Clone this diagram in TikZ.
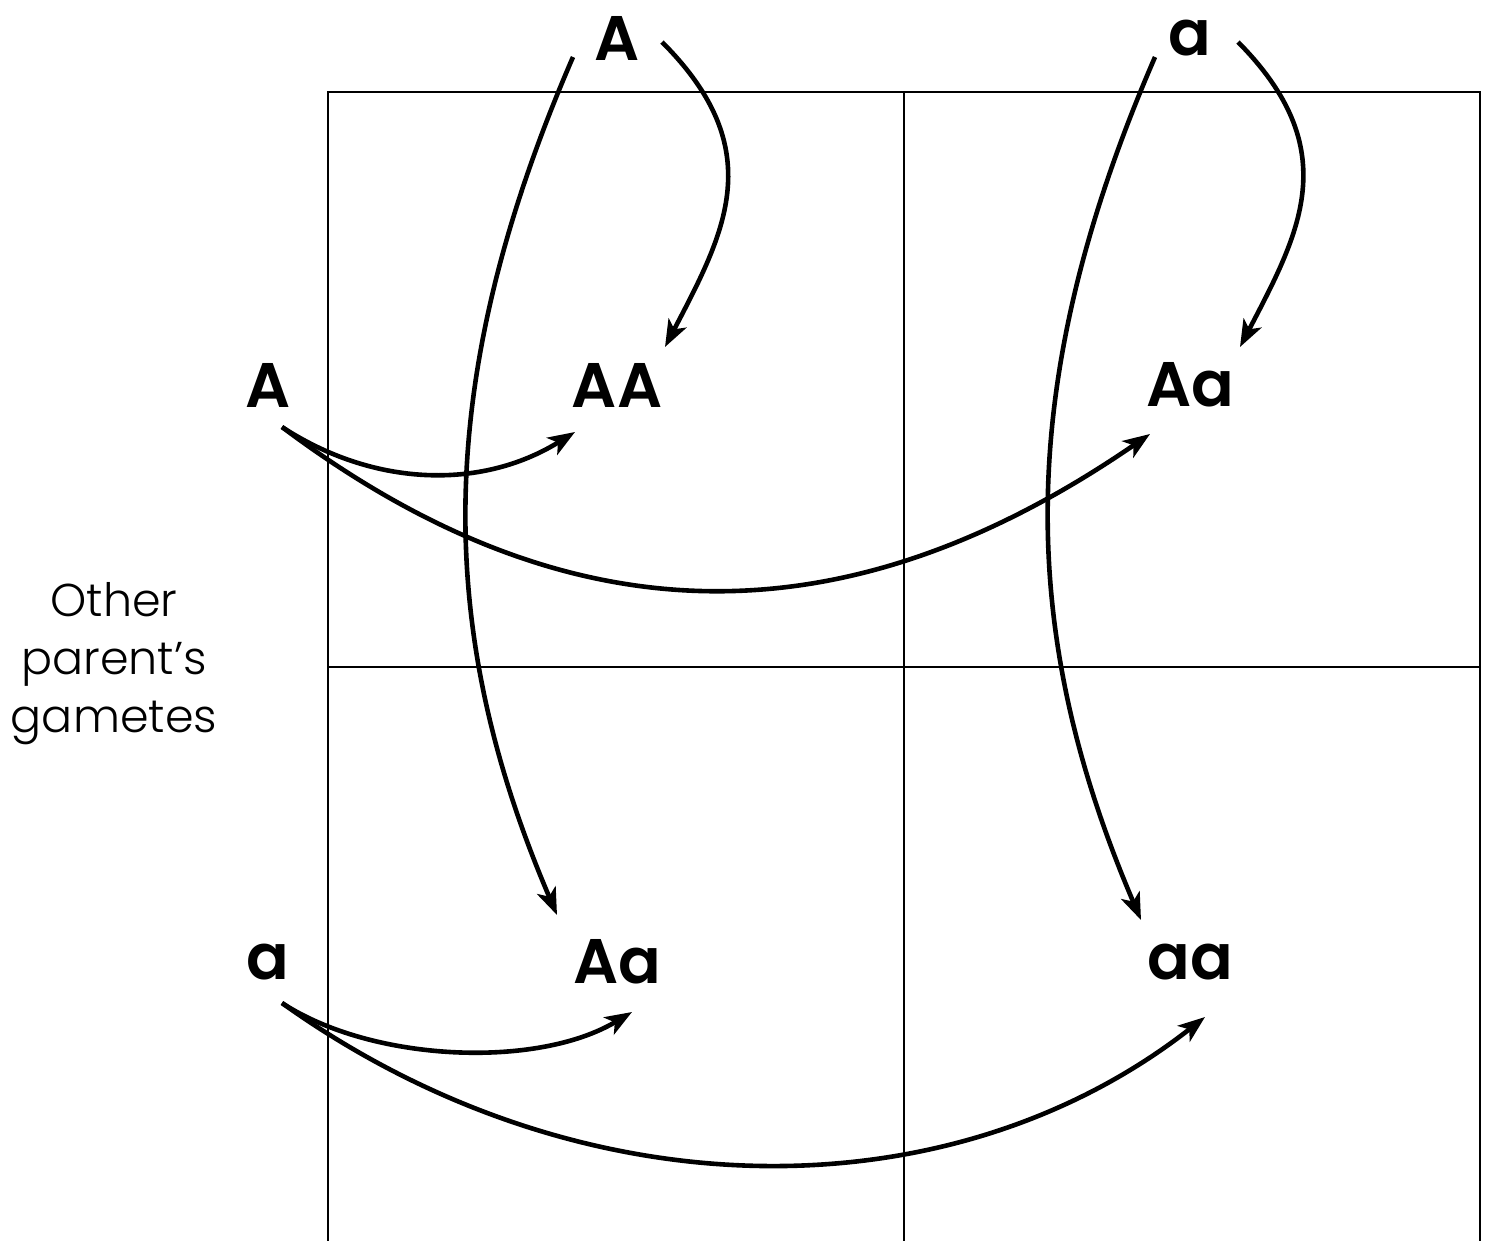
\documentclass[tikz,border=0pt]{standalone}
\usepackage{fontspec}
\setmainfont{Poppins}
\newfontfamily\genefont{Poppins SemiBold}
\newfontfamily\sidefont{Poppins Light}
\usetikzlibrary{arrows.meta}
\begin{document}
\begin{tikzpicture}[x=1pt,y=-1pt,
  gene/.style={font=\fontsize{63}{70}\genefont, inner sep=0pt, anchor=center},
  grid/.style={line width=2.4pt, line cap=rect},
  cross/.style={line width=4.6pt, -{Stealth[length=27pt,width=20pt,inset=7pt]}},
  side/.style={font=\fontsize{46}{58}\sidefont, align=center, inner sep=0pt}]
\useasboundingbox (0,0) rectangle (1489,1240);
% grid
\draw[grid] (328,92) -- (1480,92);
\draw[grid] (328,667) -- (1480,667);
\draw[grid] (328,92) -- (328,1240);
\draw[grid] (904,92) -- (904,1240);
\draw[grid] (1480,92) -- (1480,1240);
% labels
\node[gene] (tA) at (617,38) {A};
\node[gene] (ta) at (1190,38) {a};
\node[gene] (lA) at (268,385) {A};
\node[gene] (la) at (268,962) {a};
\node[gene] (AA) at (617,385) {AA};
\node[gene] (Aa1) at (1190,385) {Aa};
\node[gene] (Aa2) at (617,962) {Aa};
\node[gene] (aa) at (1190,962) {aa};
\node[side] (lab) at (114,664) {Other\\parent’s\\gametes};
% arrows from top gametes
\draw[cross] ([shift={(-44,19)}]tA.center) .. controls (430,387) and (437,635) .. ([shift={(-60,-47)}]Aa2.center);
\draw[cross] ([shift={(45,4)}]tA.center) .. controls (770,150) and (725,232) .. ([shift={(48,-38)}]AA.center);
\draw[cross] ([shift={(-35,19)}]ta.center) .. controls (1012,387) and (1019,635) .. ([shift={(-49,-42)}]aa.center);
\draw[cross] ([shift={(48,4)}]ta.center) .. controls (1345,150) and (1300,232) .. ([shift={(50,-38)}]Aa1.center);
% arrows from side gametes
\draw[cross] ([shift={(14,42)}]lA.center) .. controls (372,486) and (480,491) .. ([shift={(-42,47)}]AA.center);
\draw[cross] ([shift={(14,42)}]lA.center) .. controls (570,643) and (846,643) .. ([shift={(-40,49)}]Aa1.center);
\draw[cross] ([shift={(14,41)}]la.center) .. controls (372,1062) and (537,1069) .. ([shift={(15,50)}]Aa2.center);
\draw[cross] ([shift={(14,41)}]la.center) .. controls (580,1216) and (951,1216) .. ([shift={(15,55)}]aa.center);
\end{tikzpicture}
\end{document}
